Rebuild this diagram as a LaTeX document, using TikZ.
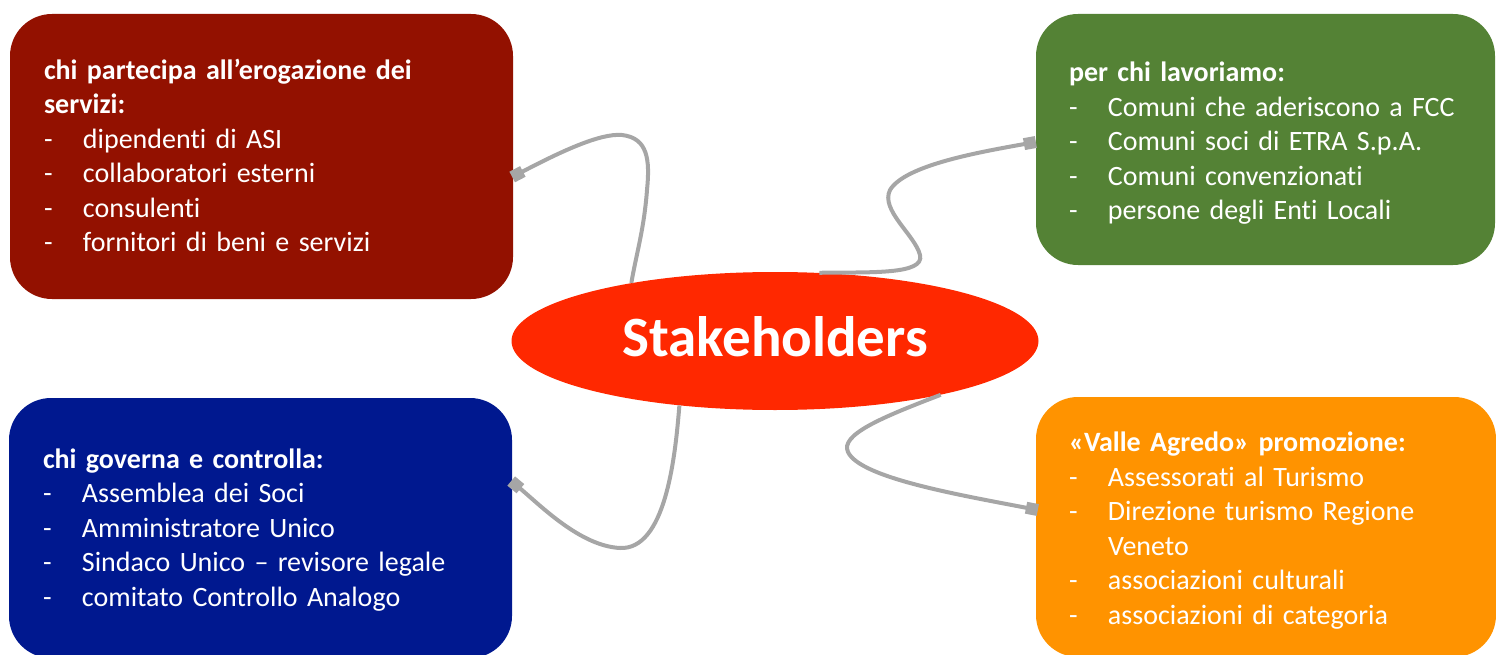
\documentclass[tikz,border=0pt]{standalone}
\usepackage{fontspec}
\setmainfont{Carlito}[Ligatures=NoCommon]
\usetikzlibrary{calc,positioning,shapes.geometric,arrows.meta}

\definecolor{servizired}{RGB}{147,17,0}
\definecolor{lavorogreen}{RGB}{84,130,53}
\definecolor{governoblue}{RGB}{0,24,143}
\definecolor{promoorange}{RGB}{255,147,0}
\definecolor{stakered}{RGB}{255,40,0}
\definecolor{linkgray}{RGB}{166,166,166}

% one line of a list: dash, then the entry
\newcommand{\voce}[1]{\makebox[39pt][l]{-}#1}

\tikzset{
  area/.style={
    rectangle,
    rounded corners=42pt,
    draw=none,
    inner sep=0pt
  },
  areatext/.style={
    text=white,
    font=\fontsize{28}{34.5}\selectfont,
    text width=440pt,
    align=left,
    inner sep=0pt,
    anchor=base west
  },
  link/.style={
    draw=linkgray,
    line width=4pt,
    {Square[length=12pt,width=12pt]}-
  }
}

\begin{document}
\begin{tikzpicture}[x=1pt,y=-1pt]
  \useasboundingbox (0,0) rectangle (1496,655);

  \node (servizi) [area,fill=servizired,minimum width=503pt,minimum height=285pt] at(261.5,156.5) {};
  \node (lavoro) [area,fill=lavorogreen,minimum width=459pt,minimum height=251pt] at(1265.5,139.5) {};
  \node (governo) [area,fill=governoblue,minimum width=503pt,minimum height=260pt] at(260.5,528) {};
  \node (promo) [area,fill=promoorange,minimum width=460pt,minimum height=260pt] at(1266,527) {};

  \node (stake) [ellipse,fill=stakered,minimum width=527pt,minimum height=138pt,inner sep=0pt,%
    text depth=8pt,text=white,font=\fontsize{57}{68}\selectfont\bfseries] at(775,341) {Stakeholders};

  \node (servizi_label) [areatext] at($(servizi.north west)+(34,65.5)$) {%
    \textbf{chi partecipa all’erogazione dei}\\
    \textbf{servizi:}\\
    \voce{dipendenti di ASI}\\
    \voce{collaboratori esterni}\\
    \voce{consulenti}\\
    \voce{fornitori di beni e servizi}};
  \node (lavoro_label) [areatext] at($(lavoro.north west)+(33,68)$) {%
    \textbf{per chi lavoriamo:}\\
    \voce{Comuni che aderiscono a FCC}\\
    \voce{Comuni soci di ETRA S.p.A.}\\
    \voce{Comuni convenzionati}\\
    \voce{persone degli Enti Locali}};
  \node (governo_label) [areatext] at($(governo.north west)+(34,70.5)$) {%
    \textbf{chi governa e controlla:}\\
    \voce{Assemblea dei Soci}\\
    \voce{Amministratore Unico}\\
    \voce{Sindaco Unico – revisore legale}\\
    \voce{comitato Controllo Analogo}};
  \node (promo_label) [areatext] at($(promo.north west)+(33,55)$) {%
    \textbf{«Valle Agredo» promozione:}\\
    \voce{Assessorati al Turismo}\\
    \voce{Direzione turismo Regione}\\
    \hspace*{39pt}Veneto\\
    \voce{associazioni culturali}\\
    \voce{associazioni di categoria}};

  % curly connectors, square end on the box side
  \draw[link] ($(servizi.east)+(-1,20.5)$) .. controls (560,152) and (600,133) .. (622,135)
    .. controls (648,138) and (650,160) .. (647,190)
    .. controls (644,230) and (636,255) .. (stake.158);
  \draw[link] ($(lavoro.west)+(0,2.5)$) .. controls (980,152) and (905,165) .. (890,190)
    .. controls (880,210) and (915,235) .. (920,255)
    .. controls (925,275) and (870,272) .. (stake.57);
  \draw[link] ($(governo.east)+(-1,-47)$) .. controls (540,505) and (580,546) .. (620,548)
    .. controls (665,550) and (675,460) .. (stake.214.5);
  \draw[link] ($(promo.west)+(2,-17)$) .. controls (960,495) and (860,478) .. (848,452)
    .. controls (840,435) and (880,418) .. (stake.342);
\end{tikzpicture}
\end{document}
